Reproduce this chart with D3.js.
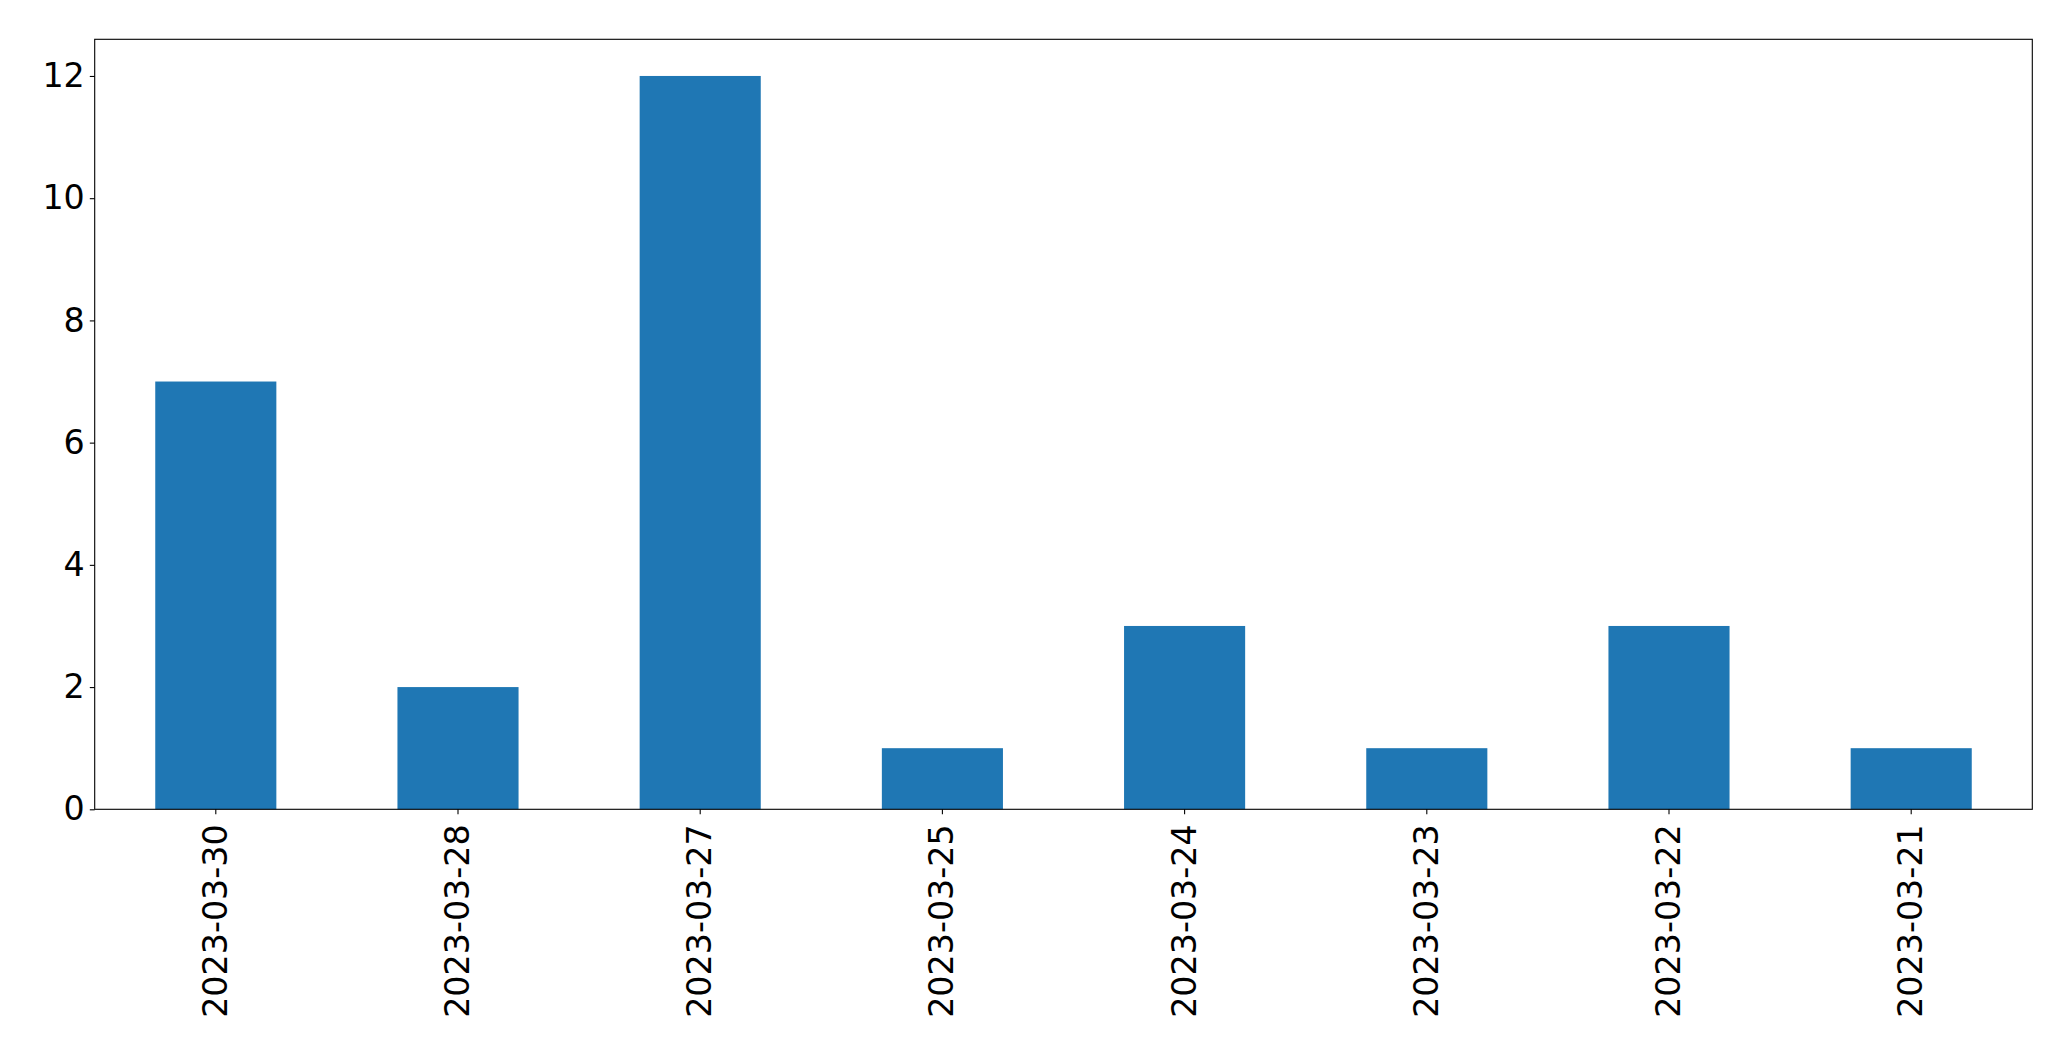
<!DOCTYPE html>
<html>
<head>
<meta charset="utf-8">
<script src="https://cdn.jsdelivr.net/npm/d3@7"></script>
<style>
  html, body { margin: 0; padding: 0; background: #fff; }
  svg { display: block; }
  text { font-family: "DejaVu Sans", sans-serif; fill: #000; }
</style>
</head>
<body>
<svg id="chart" width="2071" height="1061"></svg>
<script>
const categories = ["2023-03-30", "2023-03-28", "2023-03-27", "2023-03-25", "2023-03-24", "2023-03-23", "2023-03-22", "2023-03-21"];
const values = [7, 2, 12, 1, 3, 1, 3, 1];
const yTicks = [0, 2, 4, 6, 8, 10, 12];

(function () {
const svg = d3.select("#chart");
const pLeft = 94.7, pRight = 2032.3, pTop = 39.3, pBottom = 809.3;
const fontSize = 33.3;

const x = d3.scaleBand().domain(categories).range([pLeft, pRight]).paddingInner(0.5).paddingOuter(0.25);
const y = d3.scaleLinear().domain([0, 12.6]).range([pBottom, pTop]);

svg.append("rect").attr("x", 0).attr("y", 0).attr("width", 2071).attr("height", 1061).attr("fill", "#fff");

svg.append("g").selectAll("rect").data(values).join("rect")
  .attr("x", (d, i) => x(categories[i]))
  .attr("width", x.bandwidth())
  .attr("y", d => y(d))
  .attr("height", d => y(0) - y(d))
  .attr("fill", "#1f77b4");

// Y axis
const yAxis = d3.axisLeft(y).tickValues(yTicks).tickSize(4.9).tickPadding(5).tickFormat(d3.format("d"));
const gy = svg.append("g").attr("transform", `translate(${pLeft},0)`).call(yAxis);
gy.select(".domain").remove();
gy.selectAll(".tick line").attr("stroke", "#000").attr("stroke-width", 1.1);
gy.selectAll(".tick text").attr("font-size", fontSize).attr("font-family", "DejaVu Sans, sans-serif").attr("fill", "#000");

// X axis
const xAxis = d3.axisBottom(x).tickSize(4.9).tickPadding(0);
const gx = svg.append("g").attr("transform", `translate(0,${pBottom})`).call(xAxis);
gx.select(".domain").remove();
gx.selectAll(".tick line").attr("stroke", "#000").attr("stroke-width", 1.1);
gx.selectAll(".tick text")
  .attr("font-size", fontSize)
  .attr("font-family", "DejaVu Sans, sans-serif")
  .attr("fill", "#000")
  .attr("text-anchor", "end")
  .attr("y", 0)
  .attr("x", 0)
  .attr("transform", "translate(-1,15) rotate(-90)")
  .attr("dy", "0.36em");

// Frame
svg.append("rect")
  .attr("x", pLeft).attr("y", pTop)
  .attr("width", pRight - pLeft).attr("height", pBottom - pTop)
  .attr("fill", "none").attr("stroke", "#000").attr("stroke-width", 1.1);
})();
</script>
</body>
</html>
